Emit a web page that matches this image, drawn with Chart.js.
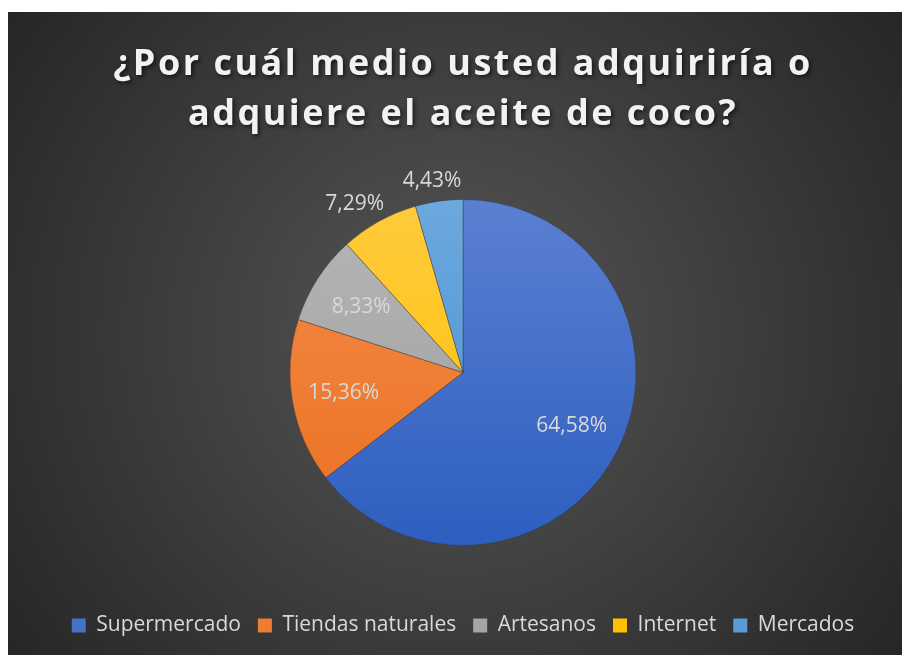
<!DOCTYPE html>
<html>
<head>
<meta charset="utf-8">
<script src="https://cdn.jsdelivr.net/npm/chart.js@4.4.1/dist/chart.umd.min.js"></script>
<style>
  body { margin: 0; background: #ffffff; }
  #wrap { position: absolute; left: 8px; top: 12px; width: 894px; height: 643px; }
</style>
</head>
<body>
<div id="wrap"><canvas id="pieChart" width="894" height="643"></canvas></div>
<script>
// datos
const titulo = ['¿Por cuál medio usted adquiriría o', 'adquiere el aceite de coco?'];
const medios = ['Supermercado', 'Tiendas naturales', 'Artesanos', 'Internet', 'Mercados'];
const porcentajes = [64.58, 15.36, 8.33, 7.29, 4.43];
const coloresArriba = ['#5b80d2', '#f58c4a', '#b6b6b6', '#ffcb3d', '#6ba8de'];
const coloresAbajo = ['#2d5ec0', '#ea7020', '#9c9c9c', '#ffc000', '#4b90d2'];
const coloresLeyenda = ['#4472c4', '#ed7d31', '#a5a5a5', '#ffc000', '#5b9bd5'];

const ctx = document.getElementById('pieChart').getContext('2d');
const radio = 173;

function degradado(context) {
    const chart = context.chart;
    const i = context.dataIndex;
    const area = chart.chartArea;
    if (!area) {
        return coloresLeyenda[i];
    }
    const cy = (area.top + area.bottom) / 2;
    const g = chart.ctx.createLinearGradient(0, cy - radio, 0, cy + radio);
    g.addColorStop(0, coloresArriba[i]);
    g.addColorStop(1, coloresAbajo[i]);
    return g;
}

// fondo oscuro con degradado
const fondo = {
    id: 'fondo',
    beforeDraw(chart) {
        const c = chart.ctx;
        const w = chart.width, h = chart.height;
        const g = c.createRadialGradient(w * 0.5, h * 0.5, 0, w * 0.5, h * 0.5, Math.sqrt(w * w + h * h) / 2);
        g.addColorStop(0, '#565656');
        g.addColorStop(1, '#262626');
        c.save();
        c.fillStyle = g;
        c.fillRect(0, 0, w, h);
        c.restore();
    }
};

// titulo con espaciado y sombra
const tituloPlugin = {
    id: 'tituloPlugin',
    afterDraw(chart) {
        const c = chart.ctx;
        c.save();
        c.font = 'bold 36px "Open Sans"';
        c.letterSpacing = '2.5px';
        c.textAlign = 'center';
        c.textBaseline = 'alphabetic';
        c.fillStyle = '#f2f2f2';
        c.shadowColor = 'rgba(0,0,0,0.6)';
        c.shadowOffsetX = 2;
        c.shadowOffsetY = 2;
        c.shadowBlur = 4;
        c.fillText(titulo[0], 455, 63);
        c.fillText(titulo[1], 455, 113);
        c.restore();
    }
};

// etiquetas de porcentaje (dentro si la porcion es grande, fuera si es chica)
const etiquetas = {
    id: 'etiquetas',
    afterDatasetsDraw(chart) {
        const c = chart.ctx;
        const meta = chart.getDatasetMeta(0);
        c.save();
        c.font = '21px "Open Sans"';
        c.fillStyle = '#d9d9d9';
        c.textAlign = 'center';
        c.textBaseline = 'middle';
        meta.data.forEach((arc, i) => {
            const ang = (arc.startAngle + arc.endAngle) / 2;
            const v = porcentajes[i];
            let rx, ry;
            if (v >= 8) {
                rx = ry = arc.outerRadius * 0.7;
            } else {
                rx = arc.outerRadius + 50;
                ry = arc.outerRadius + 20;
            }
            const x = arc.x + Math.cos(ang) * rx;
            const y = arc.y + Math.sin(ang) * ry;
            c.fillText(v.toFixed(2).replace('.', ',') + '%', x, y);
        });
        c.restore();
    }
};

new Chart(ctx, {
    type: 'pie',
    data: {
        labels: medios,
        datasets: [{
            data: porcentajes,
            backgroundColor: degradado,
            borderColor: 'rgba(50,50,50,0.5)',
            borderWidth: 0.8,
            radius: radio
        }]
    },
    options: {
        responsive: false,
        animation: false,
        layout: { padding: { top: 135, bottom: 9, left: 16, right: 0 } },
        plugins: {
            title: { display: false },
            tooltip: { enabled: false },
            legend: {
                position: 'bottom',
                labels: {
                    boxWidth: 14,
                    boxHeight: 14,
                    padding: 17,
                    color: '#d9d9d9',
                    font: { family: 'Open Sans', size: 21 },
                    generateLabels(chart) {
                        return medios.map((m, i) => ({
                            text: m,
                            fillStyle: coloresLeyenda[i],
                            strokeStyle: coloresLeyenda[i],
                            lineWidth: 0,
                            fontColor: '#d9d9d9',
                            index: i
                        }));
                    }
                }
            }
        }
    },
    plugins: [fondo, tituloPlugin, etiquetas]
});
</script>
</body>
</html>
